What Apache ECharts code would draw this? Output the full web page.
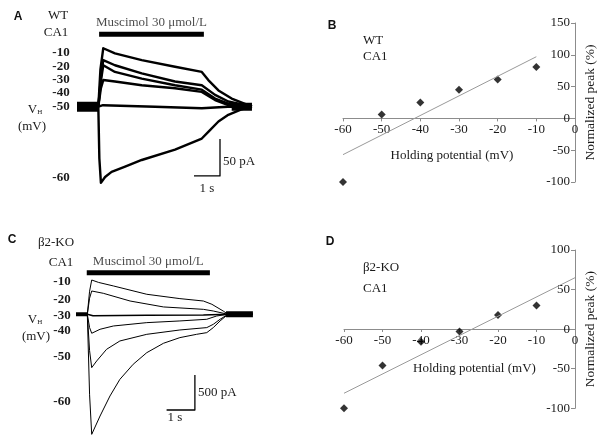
<!DOCTYPE html>
<html><head><meta charset="utf-8">
<script src="https://cdn.jsdelivr.net/npm/echarts@6/dist/echarts.min.js"></script>
<style>html,body{margin:0;padding:0;background:#fff}#c{width:606px;height:445px}</style>
</head><body><div id="c"></div>
<script>
// ---------- Panel A (WT) traces: [time s, current pA] ----------
const aBasePre = [[0,0],[0.82,0]];
const aBasePost = [[5.95,0],[6.73,0]];
const aM10 = [[0.82,0],[0.9,50],[1.01,79],[1.46,72],[2.49,63],[3.77,54],[4.8,47],[5.05,36],[5.44,22],[5.95,11],[6.73,0]];
const aM20 = [[0.82,0],[0.92,40],[1.01,63],[1.46,56],[2.49,45],[3.77,34],[4.8,29],[5.31,16],[5.82,7],[6.73,0]];
const aM30 = [[0.82,0],[0.92,35],[1.01,56],[1.46,47],[2.49,38],[3.77,29],[4.8,23],[5.31,11],[5.82,4],[6.73,0]];
const aM40 = [[0.82,0],[0.92,25],[1.01,36],[1.46,34],[2.49,29],[3.77,25],[4.8,20],[5.31,9],[5.82,2],[6.73,0]];
const aM50 = [[0.82,0],[1.0,2],[3.0,0],[4.8,-2],[5.8,0],[6.73,0]];
const aM60 = [[0.82,0],[0.86,-70],[0.92,-103],[1.08,-95],[1.33,-88],[1.85,-81],[2.49,-72],[3.77,-58],[4.8,-43],[5.05,-34],[5.44,-20],[5.82,-11],[6.3,-4],[6.73,0]];
const aDrug = [[0.85,98],[4.88,98]];
const aScale = [[4.5,-93.6],[5.5,-93.6],[5.5,-43.6]];

// ---------- Panel C (beta2-KO) traces ----------
const cBasePre = [[0,0],[0.42,0]];
const cBasePost = [[5.3,0],[6.25,0]];
const cM10 = [[0.40,0],[0.48,330],[0.555,490],[0.8,455],[1.32,405],[2.5,286],[3.67,224],[4.5,190],[4.8,143],[5.2,47],[5.37,0],[6.25,0]];
const cM20 = [[0.40,0],[0.48,230],[0.555,333],[0.965,300],[1.91,190],[3.09,105],[4.5,71],[4.85,47],[5.37,0],[6.25,0]];
const cM30 = [[0.40,0],[0.6,-20],[2.5,-14],[4.5,-10],[5.37,0],[6.25,0]];
const cM40 = [[0.40,0],[0.48,-190],[0.555,-271],[0.85,-214],[1.32,-167],[2.5,-119],[3.67,-95],[4.62,-71],[4.97,-24],[5.37,0],[6.25,0]];
const cM50 = [[0.40,0],[0.48,-520],[0.555,-762],[0.73,-667],[1.08,-500],[1.55,-381],[2.5,-286],[3.67,-224],[4.62,-190],[4.85,-143],[5.09,-71],[5.37,0],[6.25,0]];
const cM60 = [[0.40,0],[0.48,-1150],[0.555,-1715],[0.85,-1453],[1.2,-1167],[1.55,-929],[2.02,-714],[2.5,-548],[3.09,-414],[3.67,-333],[4.26,-286],[4.62,-262],[4.85,-190],[5.09,-95],[5.37,0],[6.25,0]];
const cDrug = [[0.38,594],[4.73,594]];
const cScale = [[3.2,-1367],[4.2,-1367],[4.2,-867]];

// ---------- Panel B / D I-V data ----------
const holding = [-60,-50,-40,-30,-20,-10];
const peakWT = [-100,6,25,45,61,81];
const fitWT = [[-60,-57],[-10,97]];
const peakKO = [-100,-46,-16,-3,18,30];
const fitKO = [[-60,-81],[0,65]];
const xTicks = {min:-60,max:0,interval:10};

const SERIF = 'Liberation Serif';
const TXT = '#1a1a1a';
const AX = '#8c8c8c';

function trace(data, xi, w, extra){
  return Object.assign({type:'line', xAxisIndex:xi, yAxisIndex:xi, data:data, showSymbol:false, symbol:'none',
    lineStyle:{color:'#000', width:w, join:'round'}, silent:true, z:3}, extra||{});
}

const chart = echarts.init(document.getElementById('c'), null, {renderer:'canvas'});

function ivXAxis(gi, offset, gap, namePad){
  return {type:'value', gridIndex:gi, min:xTicks.min, max:xTicks.max, interval:xTicks.interval,
    position:'bottom', offset:offset,
    axisLine:{onZero:false, lineStyle:{color:AX, width:1}},
    axisTick:{show:true, length:3, lineStyle:{color:AX}},
    axisLabel:{color:TXT, fontFamily:SERIF, fontSize:13, margin:5},
    splitLine:{show:false},
    name:'Holding potential (mV)', nameLocation:'middle', nameGap:gap,
    nameTextStyle:{color:TXT, fontFamily:SERIF, fontSize:13, padding:namePad}};
}
function ivYAxis(gi, min, max){
  return {type:'value', gridIndex:gi, min:min, max:max, interval:50, position:'right',
    axisLine:{show:true, onZero:false, lineStyle:{color:AX, width:1}},
    axisTick:{show:true, inside:true, length:4, lineStyle:{color:AX}},
    axisLabel:{inside:true, color:TXT, fontFamily:SERIF, fontSize:13, margin:5},
    splitLine:{show:false},
    name:'Normalized peak (%)', nameLocation:'middle', nameGap:8, nameRotate:90,
    nameTextStyle:{color:TXT, fontFamily:SERIF, fontSize:13.5}};
}

const bold = (text,x,y,align) => ({type:'text', x:x, y:y, silent:true,
  style:{text:text, fill:TXT, font:'bold 13px "'+SERIF+'"', align:align||'center', verticalAlign:'middle'}});
const plain = (text,x,y,align) => ({type:'text', x:x, y:y, silent:true,
  style:{text:text, fill:TXT, font:'13px "'+SERIF+'"', align:align||'center', verticalAlign:'middle'}});
const letter = (text,x,y) => ({type:'text', x:x, y:y, silent:true,
  style:{text:text, fill:'#111', font:'bold 12px "Liberation Sans"', align:'center', verticalAlign:'middle'}});
const vh = (x,y) => ({type:'text', x:x, y:y, silent:true,
  style:{text:'{v|V}{h|H}', align:'center', verticalAlign:'middle',
    rich:{v:{fontFamily:SERIF, fontSize:13, fill:TXT, color:TXT}, h:{fontFamily:SERIF, fontSize:7, fill:TXT, color:TXT, padding:[5,0,0,0]}}}});

const drugLabel = (xi, bar, dist) => ({type:'scatter', xAxisIndex:xi, yAxisIndex:xi,
  data:[[(bar[0][0]+bar[1][0])/2, bar[0][1]]], symbolSize:1, itemStyle:{color:'rgba(0,0,0,0)'}, silent:true,
  label:{show:true, position:'top', distance:dist, formatter:'Muscimol 30 μmol/L', color:TXT, fontFamily:SERIF, fontSize:13}});

const option = {
  animation:false,
  backgroundColor:'#fff',
  grid:[
    {left:77, top:14.2, width:182, height:177.6},
    {left:343, top:23, width:232, height:159},
    {left:76, top:251.3, width:184, height:189},
    {left:344, top:250, width:231, height:158.3}
  ],
  xAxis:[
    {type:'value', gridIndex:0, min:0, max:7, show:false},
    ivXAxis(1, -63.6, 31, [0,14,0,0]),
    {type:'value', gridIndex:2, min:0, max:6.5, show:false},
    ivXAxis(3, -79.3, 33, [0,0,0,30])
  ],
  yAxis:[
    {type:'value', gridIndex:0, min:-115, max:125, show:false},
    ivYAxis(1,-100,150),
    {type:'value', gridIndex:2, min:-1800, max:900, show:false},
    ivYAxis(3,-100,100)
  ],
  series:[
    // Panel A
    trace(aBasePre,0,10), trace(aBasePost,0,8),
    trace(aM10,0,2.4), trace(aM20,0,2.4), trace(aM30,0,2.4), trace(aM40,0,2.4), trace(aM50,0,2.4), trace(aM60,0,2.4),
    trace(aDrug,0,5),
    trace(aScale,0,1.3),
    drugLabel(0, aDrug, 5),
    // Panel C
    trace(cBasePre,2,4), trace(cBasePost,2,6),
    trace(cM10,2,1), trace(cM20,2,1), trace(cM30,2,1.4), trace(cM40,2,1), trace(cM50,2,1), trace(cM60,2,1),
    trace(cDrug,2,5),
    trace(cScale,2,1.3),
    drugLabel(2, cDrug, 4),
    // Panel B
    {type:'line', xAxisIndex:1, yAxisIndex:1, data:fitWT, showSymbol:false, symbol:'none', lineStyle:{color:'#9a9a9a', width:1}, silent:true},
    {type:'scatter', xAxisIndex:1, yAxisIndex:1, data:holding.map((h,i)=>[h,peakWT[i]]), symbol:'diamond', symbolSize:8, itemStyle:{color:'#000'}},
    // Panel D
    {type:'line', xAxisIndex:3, yAxisIndex:3, data:fitKO, showSymbol:false, symbol:'none', lineStyle:{color:'#9a9a9a', width:1}, silent:true},
    {type:'scatter', xAxisIndex:3, yAxisIndex:3, data:holding.map((h,i)=>[h,peakKO[i]]), symbol:'diamond', symbolSize:8, itemStyle:{color:'#000'}}
  ],
  graphic:[
    // Panel A texts
    letter('A',18,17), plain('WT',58,16), plain('CA1',56,33),
    bold('-10',61,53), bold('-20',61,67), bold('-30',61,80), bold('-40',61,93), bold('-50',61,107), bold('-60',61,178),
    vh(35,110), plain('(mV)',32,127),
    plain('50 pA',223,162,'left'), plain('1 s',207,189),
    // Panel B texts
    letter('B',332,26), plain('WT',363,41,'left'), plain('CA1',363,57,'left'),
    // Panel C texts
    letter('C',12,240), plain('β2-KO',56,243), plain('CA1',61,263),
    bold('-10',62,282), bold('-20',62,300), bold('-30',62,316), bold('-40',62,331), bold('-50',62,357), bold('-60',62,402),
    vh(35,320), plain('(mV)',36,337),
    plain('500 pA',198,393,'left'), plain('1 s',175,418),
    // Panel D texts
    letter('D',330,242), plain('β2-KO',363,268,'left'), plain('CA1',363,289,'left')
  ]
};
chart.setOption(option);
</script></body></html>
